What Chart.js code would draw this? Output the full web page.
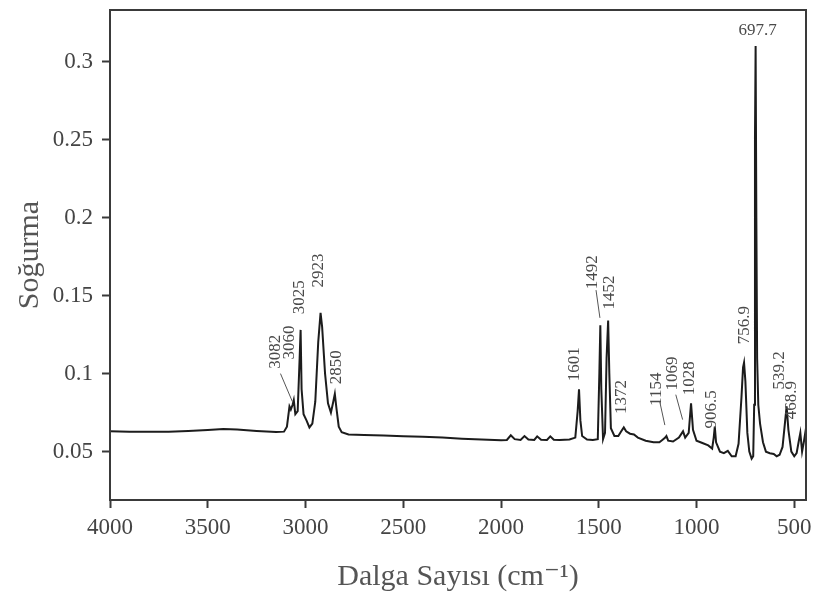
<!DOCTYPE html>
<html>
<head>
<meta charset="utf-8">
<script src="https://cdn.jsdelivr.net/npm/chart.js@4/dist/chart.umd.min.js"></script>
<style>
  html, body { margin: 0; padding: 0; background: #fff; }
  #wrap { width: 816px; height: 595px; }
</style>
</head>
<body>
<div id="wrap"><canvas id="irChart" width="816" height="595"></canvas></div>
<script>
// spectrum (wavenumber cm-1, absorbance)
var wavenumbers = [4000, 3900, 3800, 3700, 3600, 3500, 3420, 3350, 3250, 3150, 3110, 3095, 3085, 3082, 3075, 3066, 3060, 3052, 3040, 3030, 3025, 3020, 3010, 2995, 2980, 2965, 2950, 2935, 2923, 2915, 2900, 2885, 2870, 2858, 2850, 2842, 2830, 2815, 2780, 2700, 2600, 2500, 2400, 2300, 2200, 2100, 2000, 1970, 1950, 1930, 1900, 1880, 1860, 1830, 1815, 1795, 1765, 1748, 1730, 1700, 1650, 1620, 1608, 1601, 1594, 1585, 1560, 1530, 1505, 1497, 1492, 1487, 1478, 1468, 1460, 1452, 1446, 1438, 1420, 1400, 1385, 1372, 1360, 1340, 1320, 1300, 1260, 1220, 1190, 1175, 1160, 1154, 1145, 1120, 1090, 1069, 1058, 1040, 1028, 1018, 1000, 970, 940, 920, 912, 906.5, 900, 880, 860, 840, 820, 800, 785, 770, 762, 756.9, 750, 740, 730, 718, 710, 705, 701, 697.7, 694, 690, 684, 675, 660, 645, 625, 605, 590, 575, 560, 548, 539.2, 530, 515, 500, 488, 478, 468.9, 460, 450, 440];
var absorbance = [0.0630, 0.0628, 0.0627, 0.0628, 0.0632, 0.0638, 0.0645, 0.0641, 0.0632, 0.0625, 0.0628, 0.0660, 0.0760, 0.0790, 0.0770, 0.0800, 0.0830, 0.0740, 0.0760, 0.1100, 0.1280, 0.0900, 0.0740, 0.0700, 0.0655, 0.0680, 0.0820, 0.1200, 0.1390, 0.1300, 0.1000, 0.0810, 0.0750, 0.0820, 0.0870, 0.0780, 0.0660, 0.0625, 0.0610, 0.0607, 0.0603, 0.0598, 0.0595, 0.0590, 0.0583, 0.0577, 0.0573, 0.0575, 0.0605, 0.0580, 0.0575, 0.0600, 0.0578, 0.0575, 0.0598, 0.0576, 0.0575, 0.0598, 0.0576, 0.0575, 0.0578, 0.0590, 0.0760, 0.0900, 0.0700, 0.0600, 0.0578, 0.0575, 0.0580, 0.1000, 0.1310, 0.0900, 0.0580, 0.0620, 0.1100, 0.1340, 0.1000, 0.0650, 0.0600, 0.0600, 0.0630, 0.0655, 0.0630, 0.0615, 0.0610, 0.0590, 0.0570, 0.0560, 0.0560, 0.0575, 0.0590, 0.0600, 0.0570, 0.0565, 0.0590, 0.0630, 0.0590, 0.0620, 0.0810, 0.0640, 0.0570, 0.0555, 0.0540, 0.0520, 0.0590, 0.0660, 0.0560, 0.0500, 0.0490, 0.0505, 0.0470, 0.0470, 0.0550, 0.0850, 0.1040, 0.1070, 0.0950, 0.0620, 0.0500, 0.0455, 0.0470, 0.0800, 0.2500, 0.3100, 0.2000, 0.1100, 0.0800, 0.0680, 0.0560, 0.0500, 0.0490, 0.0485, 0.0470, 0.0480, 0.0530, 0.0680, 0.0790, 0.0640, 0.0500, 0.0470, 0.0490, 0.0560, 0.0620, 0.0500, 0.0570, 0.0650];

var xTicks = [4000, 3500, 3000, 2500, 2000, 1500, 1000, 500];
var yTicks = [0.05, 0.1, 0.15, 0.2, 0.25, 0.3];

// peak labels and where their text sits (in axis units)
var peakLabels = ['3082', '3060', '3025', '2923', '2850', '1601', '1492', '1452', '1372', '1154', '1069', '1028', '906.5', '756.9', '697.7', '539.2', '468.9'];
var labelWn = [3154, 3082, 3031, 2934, 2842, 1622, 1530, 1443, 1382, 1203, 1121, 1034, 922, 754, 687, 575, 514];
var labelAbs = [0.114, 0.120, 0.149, 0.166, 0.104, 0.106, 0.165, 0.152, 0.085, 0.090, 0.100, 0.097, 0.077, 0.131, 0.320, 0.102, 0.083];
var labelFlat = [false, false, false, false, false, false, false, false, false, false, false, false, false, false, true, false, false];
// short leader lines [wn1, abs1, wn2, abs2]
var leaders = [[3128, 0.100, 3067, 0.082], [1514, 0.1535, 1494, 0.1357], [1188, 0.082, 1162, 0.067], [1106, 0.0865, 1071, 0.0705]];

var serif = "'Liberation Serif', 'DejaVu Serif', serif";

var points = wavenumbers.map(function(w, i){ return {x: w, y: absorbance[i]}; });

var peakPlugin = {
    id: 'peaks',
    afterDatasetsDraw: function(chart){
        var c = chart.ctx, a = chart.chartArea;
        var xs = chart.scales.x, ys = chart.scales.y;
        c.save();
        // frame round the plot
        c.strokeStyle = '#3a3a3a';
        c.lineWidth = 2;
        c.strokeRect(a.left, a.top, a.right - a.left, a.bottom - a.top);

        c.fillStyle = '#4a4a4a';
        c.font = '17px ' + serif;
        c.textAlign = 'center';
        c.textBaseline = 'middle';
        peakLabels.forEach(function(t, i){
            var px = xs.getPixelForValue(labelWn[i]);
            var py = ys.getPixelForValue(labelAbs[i]);
            c.save();
            c.translate(px, py);
            if(!labelFlat[i]) c.rotate(-Math.PI / 2);
            c.fillText(t, 0, 0);
            c.restore();
        });

        c.strokeStyle = '#555';
        c.lineWidth = 1;
        leaders.forEach(function(l){
            c.beginPath();
            c.moveTo(xs.getPixelForValue(l[0]), ys.getPixelForValue(l[1]));
            c.lineTo(xs.getPixelForValue(l[2]), ys.getPixelForValue(l[3]));
            c.stroke();
        });
        c.restore();
    }
};

new Chart(document.getElementById('irChart'), {
    type: 'line',
    data: {
        datasets: [{
            data: points,
            borderColor: '#1c1c1c',
            borderWidth: 2,
            pointRadius: 0,
            tension: 0,
            fill: false
        }]
    },
    options: {
        responsive: false,
        animation: false,
        layout: {padding: {top: 10, right: 10, left: 0, bottom: 0}},
        plugins: {legend: {display: false}, tooltip: {enabled: false}},
        scales: {
            x: {
                type: 'linear',
                reverse: true,
                min: 440,
                max: 4000,
                afterBuildTicks: function(s){ s.ticks = xTicks.map(function(v){ return {value: v}; }); },
                afterFit: function(s){ s.height = 95; s.paddingLeft = 0; s.paddingRight = 0; },
                grid: {drawOnChartArea: false, tickLength: 8, tickColor: '#3a3a3a', tickWidth: 2},
                border: {display: true, color: '#3a3a3a', width: 2},
                ticks: {color: '#444', font: {family: serif, size: 23}, padding: 6, maxRotation: 0,
                        callback: function(v){ return String(v); }},
                title: {display: true, text: 'Dalga Sayısı (cm⁻¹)', color: '#555',
                        font: {family: serif, size: 30}, padding: {top: 4, bottom: 0}}
            },
            y: {
                min: 0.019,
                max: 0.333,
                afterBuildTicks: function(s){ s.ticks = yTicks.map(function(v){ return {value: v}; }); },
                afterFit: function(s){ s.width = 110; s.paddingTop = 0; s.paddingBottom = 0; },
                grid: {drawOnChartArea: false, tickLength: 8, tickColor: '#3a3a3a', tickWidth: 2},
                border: {display: true, color: '#3a3a3a', width: 2},
                ticks: {color: '#444', font: {family: serif, size: 23}, padding: 9,
                        callback: function(v){ return String(v); }},
                title: {display: true, text: 'Soğurma', color: '#555',
                        font: {family: serif, size: 30}, padding: {top: 12, bottom: 4}}
            }
        }
    },
    plugins: [peakPlugin]
});
</script>
</body>
</html>
